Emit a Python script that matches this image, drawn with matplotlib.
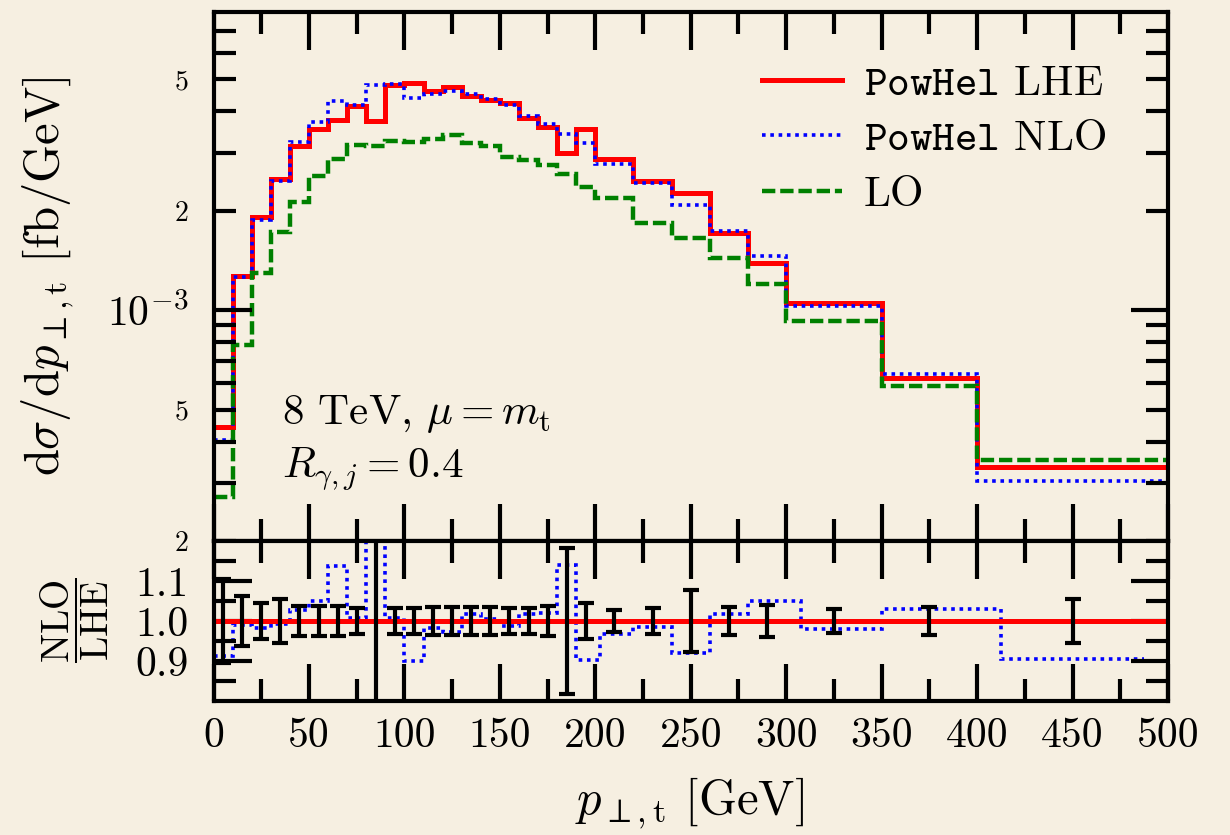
import numpy as np
import matplotlib
matplotlib.use('Agg')
import matplotlib.pyplot as plt
from matplotlib.ticker import FixedLocator, FixedFormatter, FormatStrFormatter

# bin edges in GeV
edges = [0, 10, 20, 30, 40, 50, 60, 70, 80, 90, 100, 110, 120, 130, 140, 150,
         160, 170, 180, 190, 200, 220, 240, 260, 280, 300, 350, 400, 500]

# d sigma / d pT  [fb/GeV]
lhe = [4.43e-4, 1.27e-3, 1.91e-3, 2.49e-3, 3.14e-3, 3.54e-3, 3.78e-3, 4.16e-3,
       3.75e-3, 4.81e-3, 4.89e-3, 4.61e-3, 4.73e-3, 4.45e-3, 4.33e-3, 4.23e-3,
       3.81e-3, 3.59e-3, 3.00e-3, 3.55e-3, 2.87e-3, 2.47e-3, 2.27e-3, 1.71e-3,
       1.39e-3, 1.05e-3, 6.23e-4, 3.35e-4]
nlo = [4.04e-4, 1.257e-3, 1.878e-3, 2.47e-3, 3.23e-3, 3.72e-3, 4.30e-3, 4.19e-3,
       4.80e-3, 4.85e-3, 4.40e-3, 4.53e-3, 4.60e-3, 4.53e-3, 4.35e-3, 4.18e-3,
       3.88e-3, 3.66e-3, 3.42e-3, 3.20e-3, 2.78e-3, 2.43e-3, 2.09e-3, 1.74e-3,
       1.46e-3, 1.03e-3, 6.41e-4, 3.03e-4]
lo = [2.71e-4, 7.83e-4, 1.30e-3, 1.72e-3, 2.13e-3, 2.55e-3, 2.87e-3, 3.16e-3,
      3.15e-3, 3.25e-3, 3.24e-3, 3.31e-3, 3.39e-3, 3.20e-3, 3.14e-3, 2.92e-3,
      2.86e-3, 2.76e-3, 2.58e-3, 2.36e-3, 2.18e-3, 1.84e-3, 1.65e-3, 1.44e-3,
      1.20e-3, 9.28e-4, 5.88e-4, 3.51e-4]
# statistical uncertainty of the ratio (half width)
ratio_err = [0.105, 0.0625, 0.046, 0.055, 0.0375, 0.0375, 0.0375, 0.033,
             0.35, 0.033, 0.033, 0.035, 0.035, 0.035, 0.035, 0.033,
             0.033, 0.037, 0.183, 0.044, 0.027, 0.0325, 0.077, 0.036,
             0.04, 0.031, 0.036, 0.056]

bg = '#f6efe1'
plt.rcParams['font.family'] = 'cmr10'
plt.rcParams['mathtext.fontset'] = 'cm'
plt.rcParams['axes.unicode_minus'] = False

edges = np.array(edges, dtype=float)
centers = 0.5 * (edges[:-1] + edges[1:])
ratio = np.array(nlo) / np.array(lhe)
# gnuplot-like histeps: steps halfway between bin centres
hedges = np.concatenate([[centers[0] - (centers[1] - centers[0]) / 2],
                         0.5 * (centers[:-1] + centers[1:]),
                         [centers[-1] + (centers[-1] - centers[-2]) / 2]])

fig = plt.figure(figsize=(12.3, 8.35), dpi=100, facecolor=bg)
ax1 = fig.add_axes([0.1736, 0.3521, 0.7760, 0.6335], facecolor=bg)
ax2 = fig.add_axes([0.1736, 0.1605, 0.7760, 0.1916], facecolor=bg)

# main panel
ax1.stairs(lhe, edges, baseline=None, color='#ff0000', lw=3.6, label=r'$\mathtt{PowHel}$ LHE')
ax1.stairs(nlo, edges, baseline=None, color='#0000ff', lw=2.6, linestyle=(0, (1, 1.3)),
           label=r'$\mathtt{PowHel}$ NLO')
ax1.stairs(lo, edges, baseline=None, color='#008000', lw=3.2, linestyle=(0, (3, 1.1)), label='LO')
ax1.set_yscale('log')
ax1.set_xlim(0, 500)
ax1.set_ylim(2e-4, 8e-3)

ax1.yaxis.set_major_locator(FixedLocator([1e-3]))
ax1.yaxis.set_major_formatter(FixedFormatter([r'$10^{-3}$']))
minor_y = [2e-4, 3e-4, 4e-4, 5e-4, 6e-4, 7e-4, 8e-4, 9e-4,
           2e-3, 3e-3, 4e-3, 5e-3, 6e-3, 7e-3]
minor_lab = ['2', '', '', '5', '', '', '', '', '2', '', '', '5', '', '']
ax1.yaxis.set_minor_locator(FixedLocator(minor_y))
ax1.yaxis.set_minor_formatter(FixedFormatter(minor_lab))

leg = ax1.legend(loc='upper left', bbox_to_anchor=(0.575, 0.9), frameon=False,
                 fontsize=31, handlelength=1.85, handletextpad=0.5,
                 labelspacing=0.4, borderpad=0, borderaxespad=0)

ax1.text(0.072, 0.222, r'8 TeV, $\mu = m_\mathrm{t}$', transform=ax1.transAxes,
         fontsize=31, va='baseline')
ax1.text(0.072, 0.119, r'$R_{\gamma,j} = 0.4$', transform=ax1.transAxes,
         fontsize=31, va='baseline')

# ratio panel
ax2.axhline(1.0, color='#ff0000', lw=3.6)
ax2.stairs(ratio, hedges, baseline=None, color='#0000ff', lw=2.6, linestyle=(0, (1, 1.3)))
ax2.errorbar(centers, np.ones(len(centers)), yerr=ratio_err, fmt='none', ecolor='k',
             elinewidth=3, capsize=5.5, capthick=3)
ax2.set_xlim(0, 500)
ax2.set_ylim(0.8, 1.2)
ax2.yaxis.set_major_locator(FixedLocator([0.9, 1.0, 1.1]))
ax2.yaxis.set_major_formatter(FormatStrFormatter('%.1f'))
ax2.yaxis.set_minor_locator(FixedLocator([0.85, 0.95, 1.05, 1.15]))

for ax in (ax1, ax2):
    ax.xaxis.set_major_locator(FixedLocator(np.arange(0, 501, 50)))
    ax.xaxis.set_minor_locator(FixedLocator(np.arange(25, 500, 50)))
    for s in ax.spines.values():
        s.set_linewidth(3)
    ax.tick_params(which='both', direction='in', top=True, right=True, width=3)
    ax.tick_params(which='major', length=27, labelsize=30)
    ax.tick_params(which='minor', length=16)
    ax.tick_params(axis='y', which='both', pad=18)
    ax.tick_params(axis='x', which='both', pad=12)

ax1.tick_params(axis='y', which='minor', labelsize=20)
ax1.tick_params(axis='x', labelbottom=False)

fig.text(48 / 1230, 1 - 276 / 835, r'$\mathrm{d}\sigma/\mathrm{d}p_{\perp,\mathrm{t}}$ [fb/GeV]',
         rotation=90, ha='center', va='center', fontsize=35)
fig.text(75 / 1230, 1 - 620 / 835, r'$\dfrac{\mathrm{NLO}}{\mathrm{LHE}}$',
         rotation=90, ha='center', va='center', fontsize=28)
fig.text(690 / 1230, 1 - 803 / 835, r'$p_{\perp,\mathrm{t}}$ [GeV]',
         ha='center', va='center', fontsize=35)

fig.savefig('out.png', dpi=100, facecolor=bg)
